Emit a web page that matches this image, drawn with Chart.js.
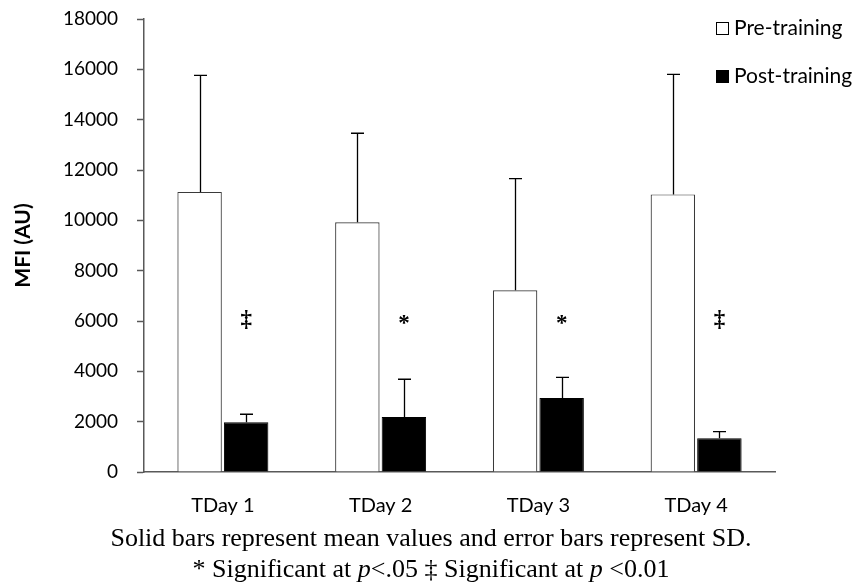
<!DOCTYPE html>
<html>
<head>
<meta charset="utf-8">
<script src="https://cdn.jsdelivr.net/npm/chart.js@4.4.1/dist/chart.umd.min.js"></script>
<style>
  html, body { margin: 0; padding: 0; background: #ffffff; }
  #wrap { position: relative; width: 862px; height: 586px; overflow: hidden; }
  #c { position: absolute; left: 0; top: 0; }
  .leg { position: absolute; font-family: Lato, "Open Sans", sans-serif; font-size: 21px; line-height: 26px; color: #000; white-space: nowrap; }
  .leg .sw { display: inline-block; width: 11px; height: 11px; border: 1px solid #000; vertical-align: 0px; margin-right: 5px; box-sizing: content-box; }
  .cap { position: absolute; left: 0; width: 862px; text-align: center; font-family: "Liberation Serif", "Times New Roman", serif; font-size: 26px; line-height: 30px; color: #000; white-space: nowrap; }
</style>
</head>
<body>
<div id="wrap">
  <canvas id="c" width="862" height="586"></canvas>
  <div id="legend"></div>
  <div class="cap" id="cap1" style="top:523px;">Solid bars represent mean values and error bars represent SD.</div>
  <div class="cap" id="cap2" style="top:554px;">* Significant at <i>p</i>&lt;.05 ‡ Significant at <i>p</i> &lt;0.01</div>
</div>
<script>
// ---- data ----
const categories = ["TDay 1", "TDay 2", "TDay 3", "TDay 4"];
const seriesNames = ["Pre-training", "Post-training"];
const preMean = [11130, 9920, 7220, 11030];
const preSD = [4630, 3540, 4440, 4770];
const postMean = [1975, 2185, 2940, 1340];
const postSD = [320, 1500, 820, 265];
const markers = ["‡", "*", "*", "‡"];
const markerLevel = 6000;
const yTicks = [0, 2000, 4000, 6000, 8000, 10000, 12000, 14000, 16000, 18000];

const sds = [preSD, postSD];

const errorBars = {
  id: 'errorBars',
  afterDatasetsDraw(chart) {
    const ctx = chart.ctx;
    const y = chart.scales.y;
    chart.data.datasets.forEach((ds, di) => {
      const meta = chart.getDatasetMeta(di);
      meta.data.forEach((bar, i) => {
        const top = y.getPixelForValue(ds.data[i] + sds[di][i]);
        const x = Math.round(bar.x) + 0.5;
        ctx.save();
        ctx.strokeStyle = '#000';
        ctx.lineWidth = 1.3;
        ctx.beginPath();
        ctx.moveTo(x, bar.y);
        ctx.lineTo(x, top);
        ctx.moveTo(x - 6.5, top);
        ctx.lineTo(x + 6.5, top);
        ctx.stroke();
        ctx.restore();
      });
    });
    // significance markers above post bars
    const meta = chart.getDatasetMeta(1);
    meta.data.forEach((bar, i) => {
      ctx.save();
      ctx.fillStyle = '#000';
      ctx.textAlign = 'center';
      ctx.textBaseline = 'middle';
      ctx.font = 'bold 23px "Liberation Serif", serif';
      ctx.fillText(markers[i], bar.x, y.getPixelForValue(markerLevel) + (markers[i] === '*' ? 3 : -1));
      ctx.restore();
    });
  }
};

const chart = new Chart(document.getElementById('c'), {
  type: 'bar',
  data: {
    labels: categories,
    datasets: [
      { label: seriesNames[0], data: preMean, backgroundColor: '#ffffff', borderColor: '#3a3a3a', borderWidth: 1.2,
        categoryPercentage: 0.59, barPercentage: 0.955 },
      { label: seriesNames[1], data: postMean, backgroundColor: '#000000', borderColor: '#000000', borderWidth: 1,
        categoryPercentage: 0.59, barPercentage: 0.955 }
    ]
  },
  options: {
    responsive: false,
    animation: false,
    devicePixelRatio: 1,
    layout: { padding: { left: 0, right: 87, top: 19, bottom: 0 } },
    plugins: { legend: { display: false }, tooltip: { enabled: false } },
    scales: {
      x: {
        grid: { display: false, drawTicks: false },
        border: { display: true, color: '#595959', width: 1.5 },
        ticks: { color: '#000', padding: 22, font: { family: 'Lato', size: 20 } },
        afterFit(s) { s.height = 114; }
      },
      y: {
        min: 0, max: 18000,
        afterBuildTicks(s) { s.ticks = yTicks.map(v => ({ value: v })); },
        grid: { drawOnChartArea: false, drawTicks: true, tickLength: 7, color: '#595959', tickWidth: 1.5 },
        border: { display: true, color: '#595959', width: 1.5 },
        ticks: { color: '#000', padding: 19, font: { family: 'Lato', size: 19 }, callback: v => String(v) },
        title: { display: true, text: 'MFI (AU)', color: '#000', font: { family: 'Lato', size: 21, weight: 'bold' }, padding: { top: 11, bottom: 0 } },
        afterFit(s) { s.width = 144; s.paddingTop = 0; s.paddingBottom = 0; }
      }
    }
  },
  plugins: [errorBars]
});

// HTML legend from the dataset labels
const leg = document.getElementById('legend');
const legTops = [14, 62];
chart.data.datasets.forEach((ds, i) => {
  const d = document.createElement('div');
  d.className = 'leg';
  d.style.left = '716px';
  d.style.top = legTops[i] + 'px';
  const sw = document.createElement('span');
  sw.className = 'sw';
  sw.style.background = ds.backgroundColor;
  d.appendChild(sw);
  d.appendChild(document.createTextNode(ds.label));
  leg.appendChild(d);
});
</script>
</body>
</html>
